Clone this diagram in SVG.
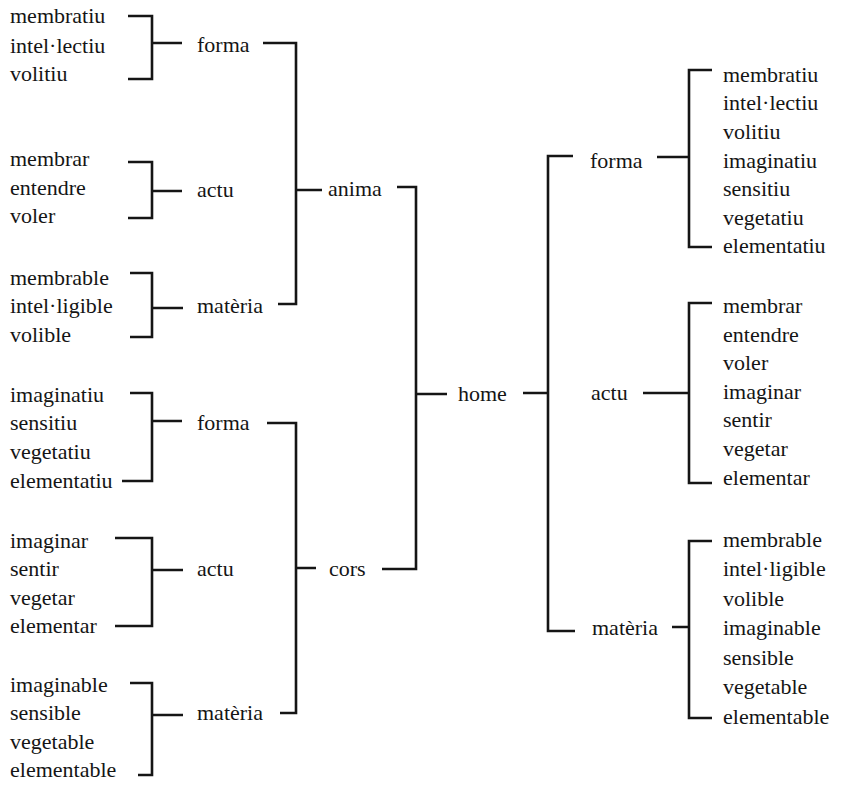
<svg xmlns="http://www.w3.org/2000/svg" width="845" height="786" viewBox="0 0 845 786">
<rect width="845" height="786" fill="#fff"/>
<g id="connectors" fill="none" stroke="#151515" stroke-width="2.6">
<path d="M128,16 H152 V79 H128 M152,43 H182"/>
<path d="M128,162 H152 V218 H128 M152,191 H182"/>
<path d="M130,273 H152 V337 H130 M152,308 H183"/>
<path d="M263,43 H296 V304 H278 M296,190 H322"/>
<path d="M130,393 H152 V481 H122 M152,421 H182"/>
<path d="M115,538 H152 V626 H115 M152,570 H183"/>
<path d="M130,683 H152 V775 H138 M152,715 H183"/>
<path d="M267,423 H296 V713 H280 M296,568 H316"/>
<path d="M397,187 H416 V569 H382 M416,394 H447"/>
<path d="M523,393 H548 M573,156 H548 V631 H575"/>
<path d="M657,157 H689 M712,70 H689 V247 H712"/>
<path d="M643,393 H689 M712,303 H689 V483 H712"/>
<path d="M672,627 H689 M712,541 H689 V718 H712"/>
</g>
<g id="l-forma-anima-leaves"><text style="font-family:'Liberation Serif',serif;font-size:22px" fill="#151515" x="10" y="23">membratiu</text><text style="font-family:'Liberation Serif',serif;font-size:22px" fill="#151515" x="10" y="53">intel·lectiu</text><text style="font-family:'Liberation Serif',serif;font-size:22px" fill="#151515" x="10" y="81">volitiu</text></g>
<g id="l-forma-anima"><text style="font-family:'Liberation Serif',serif;font-size:22px" fill="#151515" x="197" y="52">forma</text></g>
<g id="l-actu-anima-leaves"><text style="font-family:'Liberation Serif',serif;font-size:22px" fill="#151515" x="10" y="166">membrar</text><text style="font-family:'Liberation Serif',serif;font-size:22px" fill="#151515" x="10" y="195">entendre</text><text style="font-family:'Liberation Serif',serif;font-size:22px" fill="#151515" x="10" y="223">voler</text></g>
<g id="l-actu-anima"><text style="font-family:'Liberation Serif',serif;font-size:22px" fill="#151515" x="197" y="197">actu</text></g>
<g id="l-materia-anima-leaves"><text style="font-family:'Liberation Serif',serif;font-size:22px" fill="#151515" x="10" y="285">membrable</text><text style="font-family:'Liberation Serif',serif;font-size:22px" fill="#151515" x="10" y="313">intel·ligible</text><text style="font-family:'Liberation Serif',serif;font-size:22px" fill="#151515" x="10" y="342">volible</text></g>
<g id="l-materia-anima"><text style="font-family:'Liberation Serif',serif;font-size:22px" fill="#151515" x="197" y="313">matèria</text></g>
<g id="anima"><text style="font-family:'Liberation Serif',serif;font-size:22px" fill="#151515" x="328" y="196">anima</text></g>
<g id="l-forma-cors-leaves"><text style="font-family:'Liberation Serif',serif;font-size:22px" fill="#151515" x="10" y="402">imaginatiu</text><text style="font-family:'Liberation Serif',serif;font-size:22px" fill="#151515" x="10" y="430">sensitiu</text><text style="font-family:'Liberation Serif',serif;font-size:22px" fill="#151515" x="10" y="459">vegetatiu</text><text style="font-family:'Liberation Serif',serif;font-size:22px" fill="#151515" x="10" y="488">elementatiu</text></g>
<g id="l-forma-cors"><text style="font-family:'Liberation Serif',serif;font-size:22px" fill="#151515" x="197" y="430">forma</text></g>
<g id="l-actu-cors-leaves"><text style="font-family:'Liberation Serif',serif;font-size:22px" fill="#151515" x="10" y="548">imaginar</text><text style="font-family:'Liberation Serif',serif;font-size:22px" fill="#151515" x="10" y="576">sentir</text><text style="font-family:'Liberation Serif',serif;font-size:22px" fill="#151515" x="10" y="605">vegetar</text><text style="font-family:'Liberation Serif',serif;font-size:22px" fill="#151515" x="10" y="633">elementar</text></g>
<g id="l-actu-cors"><text style="font-family:'Liberation Serif',serif;font-size:22px" fill="#151515" x="197" y="576">actu</text></g>
<g id="l-materia-cors-leaves"><text style="font-family:'Liberation Serif',serif;font-size:22px" fill="#151515" x="10" y="692">imaginable</text><text style="font-family:'Liberation Serif',serif;font-size:22px" fill="#151515" x="10" y="720">sensible</text><text style="font-family:'Liberation Serif',serif;font-size:22px" fill="#151515" x="10" y="749">vegetable</text><text style="font-family:'Liberation Serif',serif;font-size:22px" fill="#151515" x="10" y="777">elementable</text></g>
<g id="l-materia-cors"><text style="font-family:'Liberation Serif',serif;font-size:22px" fill="#151515" x="197" y="720">matèria</text></g>
<g id="cors"><text style="font-family:'Liberation Serif',serif;font-size:22px" fill="#151515" x="329" y="576">cors</text></g>
<g id="home"><text style="font-family:'Liberation Serif',serif;font-size:22px" fill="#151515" x="458" y="401">home</text></g>
<g id="r-forma"><text style="font-family:'Liberation Serif',serif;font-size:22px" fill="#151515" x="590" y="168">forma</text></g>
<g id="r-forma-leaves"><text style="font-family:'Liberation Serif',serif;font-size:22px" fill="#151515" x="723" y="82">membratiu</text><text style="font-family:'Liberation Serif',serif;font-size:22px" fill="#151515" x="723" y="110">intel·lectiu</text><text style="font-family:'Liberation Serif',serif;font-size:22px" fill="#151515" x="723" y="139">volitiu</text><text style="font-family:'Liberation Serif',serif;font-size:22px" fill="#151515" x="723" y="168">imaginatiu</text><text style="font-family:'Liberation Serif',serif;font-size:22px" fill="#151515" x="723" y="196">sensitiu</text><text style="font-family:'Liberation Serif',serif;font-size:22px" fill="#151515" x="723" y="225">vegetatiu</text><text style="font-family:'Liberation Serif',serif;font-size:22px" fill="#151515" x="723" y="253">elementatiu</text></g>
<g id="r-actu"><text style="font-family:'Liberation Serif',serif;font-size:22px" fill="#151515" x="591" y="400">actu</text></g>
<g id="r-actu-leaves"><text style="font-family:'Liberation Serif',serif;font-size:22px" fill="#151515" x="723" y="313">membrar</text><text style="font-family:'Liberation Serif',serif;font-size:22px" fill="#151515" x="723" y="342">entendre</text><text style="font-family:'Liberation Serif',serif;font-size:22px" fill="#151515" x="723" y="370">voler</text><text style="font-family:'Liberation Serif',serif;font-size:22px" fill="#151515" x="723" y="399">imaginar</text><text style="font-family:'Liberation Serif',serif;font-size:22px" fill="#151515" x="723" y="427">sentir</text><text style="font-family:'Liberation Serif',serif;font-size:22px" fill="#151515" x="723" y="456">vegetar</text><text style="font-family:'Liberation Serif',serif;font-size:22px" fill="#151515" x="723" y="485">elementar</text></g>
<g id="r-materia"><text style="font-family:'Liberation Serif',serif;font-size:22px" fill="#151515" x="592" y="635">matèria</text></g>
<g id="r-materia-leaves"><text style="font-family:'Liberation Serif',serif;font-size:22px" fill="#151515" x="723" y="547">membrable</text><text style="font-family:'Liberation Serif',serif;font-size:22px" fill="#151515" x="723" y="576">intel·ligible</text><text style="font-family:'Liberation Serif',serif;font-size:22px" fill="#151515" x="723" y="606">volible</text><text style="font-family:'Liberation Serif',serif;font-size:22px" fill="#151515" x="723" y="635">imaginable</text><text style="font-family:'Liberation Serif',serif;font-size:22px" fill="#151515" x="723" y="665">sensible</text><text style="font-family:'Liberation Serif',serif;font-size:22px" fill="#151515" x="723" y="694">vegetable</text><text style="font-family:'Liberation Serif',serif;font-size:22px" fill="#151515" x="723" y="724">elementable</text></g>
</svg>
